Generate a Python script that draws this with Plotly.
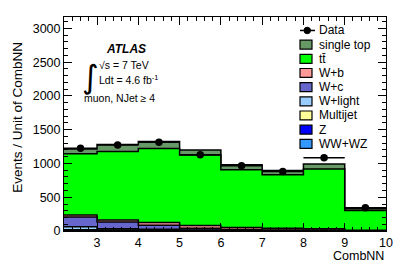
import numpy as np
import plotly.graph_objects as go

# ---------------- data ----------------
bin_edges = [2.2, 3, 4, 5, 6, 7, 8, 9, 10]
data_counts = [1226, 1275, 1315, 1128, 966, 882, 1084, 344]

# stack components, bottom -> top
comp_names = ["WW+WZ", "Z", "Multijet", "W+light", "W+c", "W+b", "tt\u0304", "single top"]
ww_wz      = [3, 2, 2, 1, 1, 1, 1, 0.5]
z_jets     = [5, 4, 3, 2, 1, 1, 1, 0.5]
multijet   = [10, 8, 6, 4, 3, 2, 2, 1]
w_light    = [45, 20, 15, 8, 5, 4, 3, 1]
w_c        = [145, 100, 60, 25, 12, 8, 6, 2]
w_b        = [30, 30, 40, 40, 28, 24, 20, 5]
ttbar      = [905, 1013, 1095, 1044, 857, 794, 885, 294]
single_top = [73, 103, 103, 77, 74, 63, 73, 25]
comp_colors = ["#3399ff", "#0000ff", "#ffff99", "#99ccff", "#6666cc", "#ff9999", "#00ff00", "#669966"]

legend_names = ["Data", "single top", "tt\u0304", "W+b", "W+c", "W+light", "Multijet", "Z", "WW+WZ"]

# ---------------- figure ----------------
FONT = "Liberation Sans, Arial, Helvetica, sans-serif"
L, R, T, B = 64, 21, 17, 44.5
W, H = 407, 276
PW, PH = W - L - R, H - T - B

def px(xp):
    return (xp - L) / PW

def py(yp):
    return (H - B - yp) / PH

edges = np.array(bin_edges, dtype=float)
centers = 0.5 * (edges[:-1] + edges[1:])
halfw = 0.5 * (edges[1:] - edges[:-1])

comps = [ww_wz, z_jets, multijet, w_light, w_c, w_b, ttbar, single_top]
cum = np.cumsum(np.array(comps, dtype=float), axis=0)

fig = go.Figure()
# draw from top of stack down so lower layers cover upper fills
for i in range(len(comps) - 1, -1, -1):
    yv = list(cum[i]) + [cum[i][-1]]
    fig.add_trace(go.Scatter(
        x=list(edges), y=yv, mode="lines", line_shape="hv",
        line=dict(color="black", width=1.5),
        fill="tozeroy", fillcolor=comp_colors[i],
        name=comp_names[i], showlegend=False, hoverinfo="skip"))

fig.add_trace(go.Scatter(
    x=list(centers), y=data_counts, mode="markers",
    marker=dict(color="black", size=7.5),
    error_x=dict(type="data", array=list(halfw), color="black", thickness=1.5, width=0),
    name="Data", showlegend=False))

axis_common = dict(
    showline=True, linecolor="black", linewidth=1, mirror="allticks",
    ticks="inside", tickcolor="black", showgrid=False, zeroline=False,
    tickfont=dict(family=FONT, size=12.5, color="black"),
)
fig.update_xaxes(range=[2.2, 10], tickvals=[3, 4, 5, 6, 7, 8, 9, 10], ticklen=8,
                 minor=dict(dtick=0.2, tick0=0, ticklen=4, ticks="inside", tickcolor="black"),
                 **axis_common)
fig.update_yaxes(range=[0, 3170], tickvals=[0, 500, 1000, 1500, 2000, 2500, 3000], ticklen=8,
                 minor=dict(dtick=100, tick0=0, ticklen=4, ticks="inside", tickcolor="black"),
                 **axis_common)

shapes = []
annotations = []

# manual legend
row_y = [30.5, 44.7, 58.9, 73.1, 87.3, 101.5, 115.7, 129.9, 144.1]
box_x0, box_x1 = 300, 312
text_x = 317
leg_colors = [None] + comp_colors[::-1]
for k, name in enumerate(legend_names):
    yc = row_y[k]
    if k == 0:
        shapes.append(dict(type="line", xref="paper", yref="paper",
                           x0=px(300), x1=px(315), y0=py(yc), y1=py(yc),
                           line=dict(color="black", width=1.5)))
        shapes.append(dict(type="circle", xref="paper", yref="paper",
                           x0=px(304), x1=px(310.5), y0=py(yc + 3.25), y1=py(yc - 3.25),
                           fillcolor="black", line=dict(color="black", width=1)))
    else:
        shapes.append(dict(type="rect", xref="paper", yref="paper",
                           x0=px(box_x0), x1=px(box_x1), y0=py(yc + 4.5), y1=py(yc - 4.5),
                           fillcolor=leg_colors[k], line=dict(color="black", width=1.2)))
    annotations.append(dict(text=name, xref="paper", yref="paper", x=px(text_x), y=py(yc),
                            xanchor="left", yanchor="middle", showarrow=False,
                            font=dict(family=FONT, size=12, color="black")))

# ATLAS labels
annotations += [
    dict(text="<b><i>ATLAS</i></b>", xref="paper", yref="paper", x=px(126), y=py(49),
         xanchor="center", yanchor="middle", showarrow=False,
         font=dict(family=FONT, size=12, color="black")),
    dict(text="\u221as = 7 TeV", xref="paper", yref="paper", x=px(97), y=py(65),
         xanchor="left", yanchor="middle", showarrow=False,
         font=dict(family=FONT, size=10.5, color="black")),
    dict(text="\u222b", xref="paper", yref="paper", x=px(90), y=py(77),
         xanchor="center", yanchor="middle", showarrow=False,
         font=dict(family="DejaVu Sans", size=32, color="black")),
    dict(text="Ldt = 4.6 fb<sup>-1</sup>", xref="paper", yref="paper", x=px(97), y=py(80),
         xanchor="left", yanchor="middle", showarrow=False,
         font=dict(family=FONT, size=10.5, color="black")),
    dict(text="muon, NJet \u2265 4", xref="paper", yref="paper", x=px(82), y=py(98),
         xanchor="left", yanchor="middle", showarrow=False,
         font=dict(family=FONT, size=10.5, color="black")),
    dict(text="CombNN", xref="paper", yref="paper", x=1.0, y=py(257),
         xanchor="right", yanchor="middle", showarrow=False,
         font=dict(family=FONT, size=12.5, color="black")),
    dict(text="Events / Unit of CombNN", xref="paper", yref="paper", x=px(18), y=py(118),
         xanchor="center", yanchor="middle", textangle=-90, showarrow=False,
         font=dict(family=FONT, size=13.5, color="black")),
]

fig.update_layout(
    width=W, height=H,
    margin=dict(l=L, r=R, t=T, b=B),
    paper_bgcolor="white", plot_bgcolor="white",
    showlegend=False,
    shapes=shapes, annotations=annotations,
    font=dict(family=FONT, color="black"),
)

fig.write_html("out.html", config={"displayModeBar": False},
               post_script="document.body.style.margin='0';document.body.style.overflow='hidden';")
